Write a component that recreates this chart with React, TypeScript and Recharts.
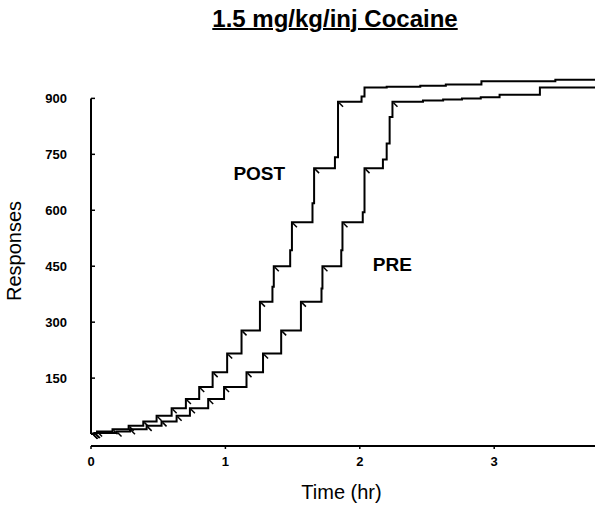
import React from "react"
import { LineChart, Line, XAxis, YAxis, ReferenceLine, ReferenceDot } from "recharts"

// cumulative responses at each completed ratio (progressive ratio schedule)
const ratioSteps = [1, 3, 7, 13, 22, 34, 49, 69, 94, 126, 166, 216, 278, 355, 450, 568, 713, 891]

// POST session: time (hr) / cumulative responses
const postTime = [0, 0.01, 0.025, 0.045, 0.16, 0.28, 0.389, 0.488, 0.6, 0.706, 0.805, 0.905, 1.013, 1.12, 1.257, 1.35, 1.36, 1.482, 1.495, 1.648, 1.66, 1.815, 1.838, 2.013, 2.035, 2.2, 2.45, 2.64, 2.905, 3.455, 3.75]
const postResp = [0, 1, 3, 7, 13, 22, 34, 49, 69, 94, 126, 166, 216, 278, 355, 395, 450, 493, 568, 619, 713, 742, 891, 905, 929, 931, 934, 937, 946, 950, 950]

// PRE session
const preTime = [0, 0.012, 0.03, 0.19, 0.29, 0.414, 0.525, 0.637, 0.736, 0.872, 0.99, 1.157, 1.28, 1.415, 1.562, 1.715, 1.722, 1.862, 1.871, 2.022, 2.035, 2.172, 2.2, 2.222, 2.243, 2.47, 2.62, 2.76, 2.9, 3.04, 3.34, 3.75]
const preResp = [0, 1, 3, 7, 13, 22, 34, 49, 69, 94, 126, 166, 216, 278, 355, 390, 450, 493, 568, 595, 713, 736, 779, 850, 891, 894, 897, 900, 903, 910, 929, 929]

const xTicks = [0, 1, 2, 3]
const yTicks = [150, 300, 450, 600, 750, 900]

const toSeries = (time: number[], resp: number[]) => time.map((t, i) => ({ t, r: resp[i] }))
const postData = toSeries(postTime, postResp)
const preData = toSeries(preTime, preResp)

const FONT = '"Liberation Sans", Arial, Helvetica, sans-serif'

// little pen deflection drawn at each infusion
const InfusionMark = (props: any) => {
  const { cx, cy, payload, index } = props
  if (cx == null || cy == null || !ratioSteps.includes(payload.r)) return <g key={`m-${index}`} />
  return <line key={`m-${index}`} x1={cx + 1} y1={cy + 1} x2={cx + 5} y2={cy + 5} stroke="#000" strokeWidth={1.5} />
}

const YTitle = (props: any) => {
  const vb = props.viewBox || { x: 0, y: 76, width: 91, height: 370 }
  const x = vb.x + 21
  const y = vb.y + vb.height / 2 - 10
  return (
    <text x={x} y={y} transform={`rotate(-90, ${x}, ${y})`} textAnchor="middle" fontSize={20} fontFamily={FONT} fill="#000">
      Responses
    </text>
  )
}

const XTitle = (props: any) => {
  const vb = props.viewBox || { x: 91, y: 446, width: 504, height: 67 }
  return (
    <text x={vb.x + vb.width / 2 - 1.5} y={vb.y + 53} textAnchor="middle" fontSize={20} fontFamily={FONT} fill="#000">
      Time (hr)
    </text>
  )
}

const tickStyle = { fill: "#000", fontSize: 13, fontWeight: "bold", fontFamily: FONT }

export default function App() {
  return (
    <div style={{ position: "absolute", left: 0, top: 0, width: 601, height: 513, background: "#fff", fontFamily: FONT }}>
      <div
        style={{
          position: "absolute",
          left: 100,
          top: 7,
          width: 470,
          textAlign: "center",
          fontSize: 24,
          lineHeight: "24px",
          fontWeight: "bold",
          textDecoration: "underline",
          textDecorationThickness: 2,
          color: "#000",
        }}
      >
        1.5 mg/kg/inj Cocaine
      </div>
      <LineChart
        width={601}
        height={513}
        margin={{ top: 76, right: 6, bottom: 0, left: 0 }}
        style={{ position: "absolute", left: 0, top: 0 }}
      >
        <XAxis
          dataKey="t"
          type="number"
          domain={[0, 3.75]}
          allowDataOverflow
          ticks={xTicks}
          interval={0}
          height={67}
          tickSize={3}
          tickMargin={8}
          axisLine={{ stroke: "#000", strokeWidth: 2 }}
          tickLine={{ stroke: "#000", strokeWidth: 1.5 }}
          tick={tickStyle}
          label={XTitle}
        />
        <YAxis
          type="number"
          domain={[-32, 960]}
          allowDataOverflow
          ticks={yTicks}
          interval={0}
          width={91}
          axisLine={false}
          tickSize={-4}
          tickMargin={28}
          tickLine={{ stroke: "#000", strokeWidth: 1.5 }}
          tick={tickStyle}
          label={YTitle}
        />
        <ReferenceLine
          segment={[{ x: 0, y: 0 }, { x: 0, y: 900 }]}
          stroke="#000"
          strokeWidth={2}
        />
        <Line
          data={postData}
          dataKey="r"
          type="stepAfter"
          stroke="#000"
          strokeWidth={2}
          dot={InfusionMark}
          activeDot={false}
          isAnimationActive={false}
        />
        <Line
          data={preData}
          dataKey="r"
          type="stepAfter"
          stroke="#000"
          strokeWidth={2}
          dot={InfusionMark}
          activeDot={false}
          isAnimationActive={false}
        />
        <ReferenceDot
          x={1.252}
          y={700}
          r={1}
          fill="none"
          stroke="none"
          label={{ value: "POST", position: "center", fontSize: 19, fontWeight: "bold", fill: "#000", fontFamily: FONT }}
        />
        <ReferenceDot
          x={2.242}
          y={455}
          r={1}
          fill="none"
          stroke="none"
          label={{ value: "PRE", position: "center", fontSize: 19, fontWeight: "bold", fill: "#000", fontFamily: FONT }}
        />
      </LineChart>
    </div>
  )
}
